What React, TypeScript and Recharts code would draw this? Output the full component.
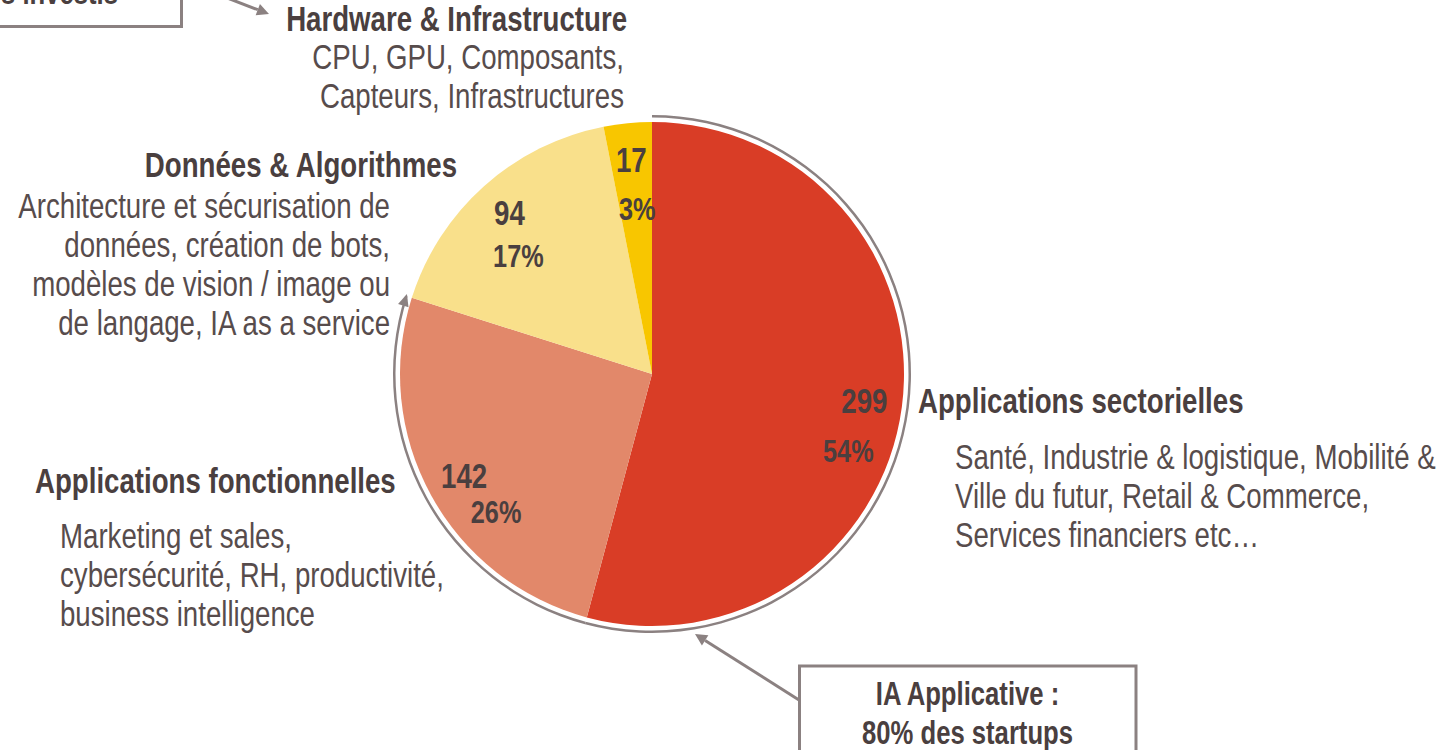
import React from "react";
import { PieChart, Pie, Cell } from "recharts";

// startups per AI segment
const categories = [
  "Applications sectorielles",
  "Applications fonctionnelles",
  "Données & Algorithmes",
  "Hardware & Infrastructure",
];
const startups = [299, 142, 94, 17];
const descriptions = [
  ["Santé, Industrie & logistique, Mobilité &", "Ville du futur, Retail & Commerce,", "Services financiers etc…"],
  ["Marketing et sales,", "cybersécurité, RH, productivité,", "business intelligence"],
  ["Architecture et sécurisation de", "données, création de bots,", "modèles de vision / image ou", "de langage, IA as a service"],
  ["CPU, GPU, Composants,", "Capteurs, Infrastructures"],
];
// segments grouped under "IA Applicative"
const applicative = [true, true, false, false];
const topNote = "s investis";
const bottomNote = ["IA Applicative :", "80% des startups"];

const colors = ["#D93D26", "#E2886A", "#F9E08B", "#F8C600"];
const ringColor = "#8b8181";
const boldInk = "#4a3f3f";
const ink = "#574c4c";
const FONT = "'Liberation Sans', Arial, sans-serif";
const SQUEEZE = 0.79;

const W = 1446;
const H = 750;
const CX = 652;
const CY = 374;
const R = 252;
const RAD = Math.PI / 180;

// label blocks: title position + description lines
const blocks = [
  { tx: 918, ty: 413, anchor: "start", dx: 955, dy: 469 },
  { tx: 35, ty: 493, anchor: "start", dx: 60, dy: 548 },
  { tx: 457, ty: 177, anchor: "end", dx: 390, dy: 218 },
  { tx: 627, ty: 31, anchor: "end", dx: 624, dy: 69 },
];
const pctOffsets = [
  [-16, 49],
  [32, 35],
  [9, 42],
  [6, 48],
];
const LINE = 39;

const pieData = categories.map((name, i) => ({ name, value: startups[i] }));

function NText({ x, y, size, bold, anchor = "start", children }: any) {
  return (
    <g transform={`translate(${x},${y}) scale(${SQUEEZE},1)`}>
      <text
        x={0}
        y={0}
        fontSize={size}
        fontWeight={bold ? 700 : 400}
        textAnchor={anchor}
        fill={bold ? boldInk : ink}
        fontFamily={FONT}
      >
        {children}
      </text>
    </g>
  );
}

function Arrow({ x1, y1, x2, y2 }: any) {
  const len = Math.hypot(x2 - x1, y2 - y1);
  const ux = (x2 - x1) / len;
  const uy = (y2 - y1) / len;
  const bx = x2 - ux * 12;
  const by = y2 - uy * 12;
  return (
    <g>
      <line x1={x1} y1={y1} x2={bx} y2={by} stroke={ringColor} strokeWidth={3} />
      <polygon
        points={`${x2},${y2} ${bx - uy * 6},${by + ux * 6} ${bx + uy * 6},${by - ux * 6}`}
        fill={ringColor}
      />
    </g>
  );
}

const renderValueLabel = (props: any) => {
  const { cx, cy, midAngle, outerRadius, percent, value, index } = props;
  const r = outerRadius * 0.85;
  const t = -midAngle * RAD;
  const x = cx + r * Math.cos(t);
  const y = cy + r * Math.sin(t);
  const off = pctOffsets[index];
  return (
    <g key={`lbl-${index}`}>
      <NText x={x} y={y + 11} size={35} bold anchor="middle">
        {value}
      </NText>
      <NText x={x + off[0]} y={y + off[1] + 11} size={32} bold anchor="middle">
        {Math.round(percent * 100)}%
      </NText>
    </g>
  );
};

const lastApplicative = applicative.lastIndexOf(true);

const renderRingArrow = (props: any) => {
  const { cx, cy, endAngle, innerRadius, outerRadius, index } = props;
  if (index !== lastApplicative) return <g key={`ra-${index}`} />;
  const r = (innerRadius + outerRadius) / 2;
  const t = -endAngle * RAD;
  const px = cx + r * Math.cos(t);
  const py = cy + r * Math.sin(t);
  const dx = -Math.sin(t);
  const dy = Math.cos(t);
  const bx = px - dx * 10;
  const by = py - dy * 10;
  const nx = -dy * 5.5;
  const ny = dx * 5.5;
  return (
    <polygon
      key={`ra-${index}`}
      points={`${px + dx * 2},${py + dy * 2} ${bx + nx},${by + ny} ${bx - nx},${by - ny}`}
      fill={ringColor}
    />
  );
};

export default function App() {
  return (
    <div style={{ position: "absolute", left: 0, top: 0, width: W, height: H, background: "#fff", overflow: "hidden" }}>
      <PieChart width={W} height={H} margin={{ top: 0, right: 0, bottom: 0, left: 0 }}>
        <Pie
          data={pieData}
          dataKey="value"
          cx={CX}
          cy={CY}
          innerRadius={R + 4.5}
          outerRadius={R + 7}
          startAngle={90}
          endAngle={-270}
          stroke="none"
          isAnimationActive={false}
          label={renderRingArrow}
          labelLine={false}
        >
          {pieData.map((_, i) => (
            <Cell key={`ring-${i}`} fill={applicative[i] ? ringColor : "none"} />
          ))}
        </Pie>
        <Pie
          data={pieData}
          dataKey="value"
          cx={CX}
          cy={CY}
          outerRadius={R}
          startAngle={90}
          endAngle={-270}
          stroke="none"
          isAnimationActive={false}
          label={renderValueLabel}
          labelLine={false}
        >
          {pieData.map((_, i) => (
            <Cell key={`cell-${i}`} fill={colors[i]} />
          ))}
        </Pie>
      </PieChart>

      <svg width={W} height={H} style={{ position: "absolute", left: 0, top: 0, pointerEvents: "none" }}>
        {categories.map((c, i) => {
          const b = blocks[i];
          return (
            <g key={c}>
              <NText x={b.tx} y={b.ty} size={35} bold anchor={b.anchor}>
                {c}
              </NText>
              {descriptions[i].map((line, j) => (
                <NText key={line} x={b.dx} y={b.dy + j * LINE} size={35} anchor={b.anchor}>
                  {line}
                </NText>
              ))}
            </g>
          );
        })}

        <rect x={-20} y={-60} width={201.5} height={86.5} fill="#fff" stroke={ringColor} strokeWidth={3} />
        <NText x={118} y={4} size={32.5} bold anchor="end">
          {topNote}
        </NText>
        <Arrow x1={222} y1={-4} x2={269} y2={14} />

        <rect x={799.5} y={666} width={336.5} height={120} fill="#fff" stroke={ringColor} strokeWidth={3} />
        {bottomNote.map((line, j) => (
          <NText key={line} x={967.5} y={705 + j * 39} size={32.5} bold anchor="middle">
            {line}
          </NText>
        ))}
        <Arrow x1={799} y1={700} x2={695} y2={634} />
      </svg>
    </div>
  );
}
